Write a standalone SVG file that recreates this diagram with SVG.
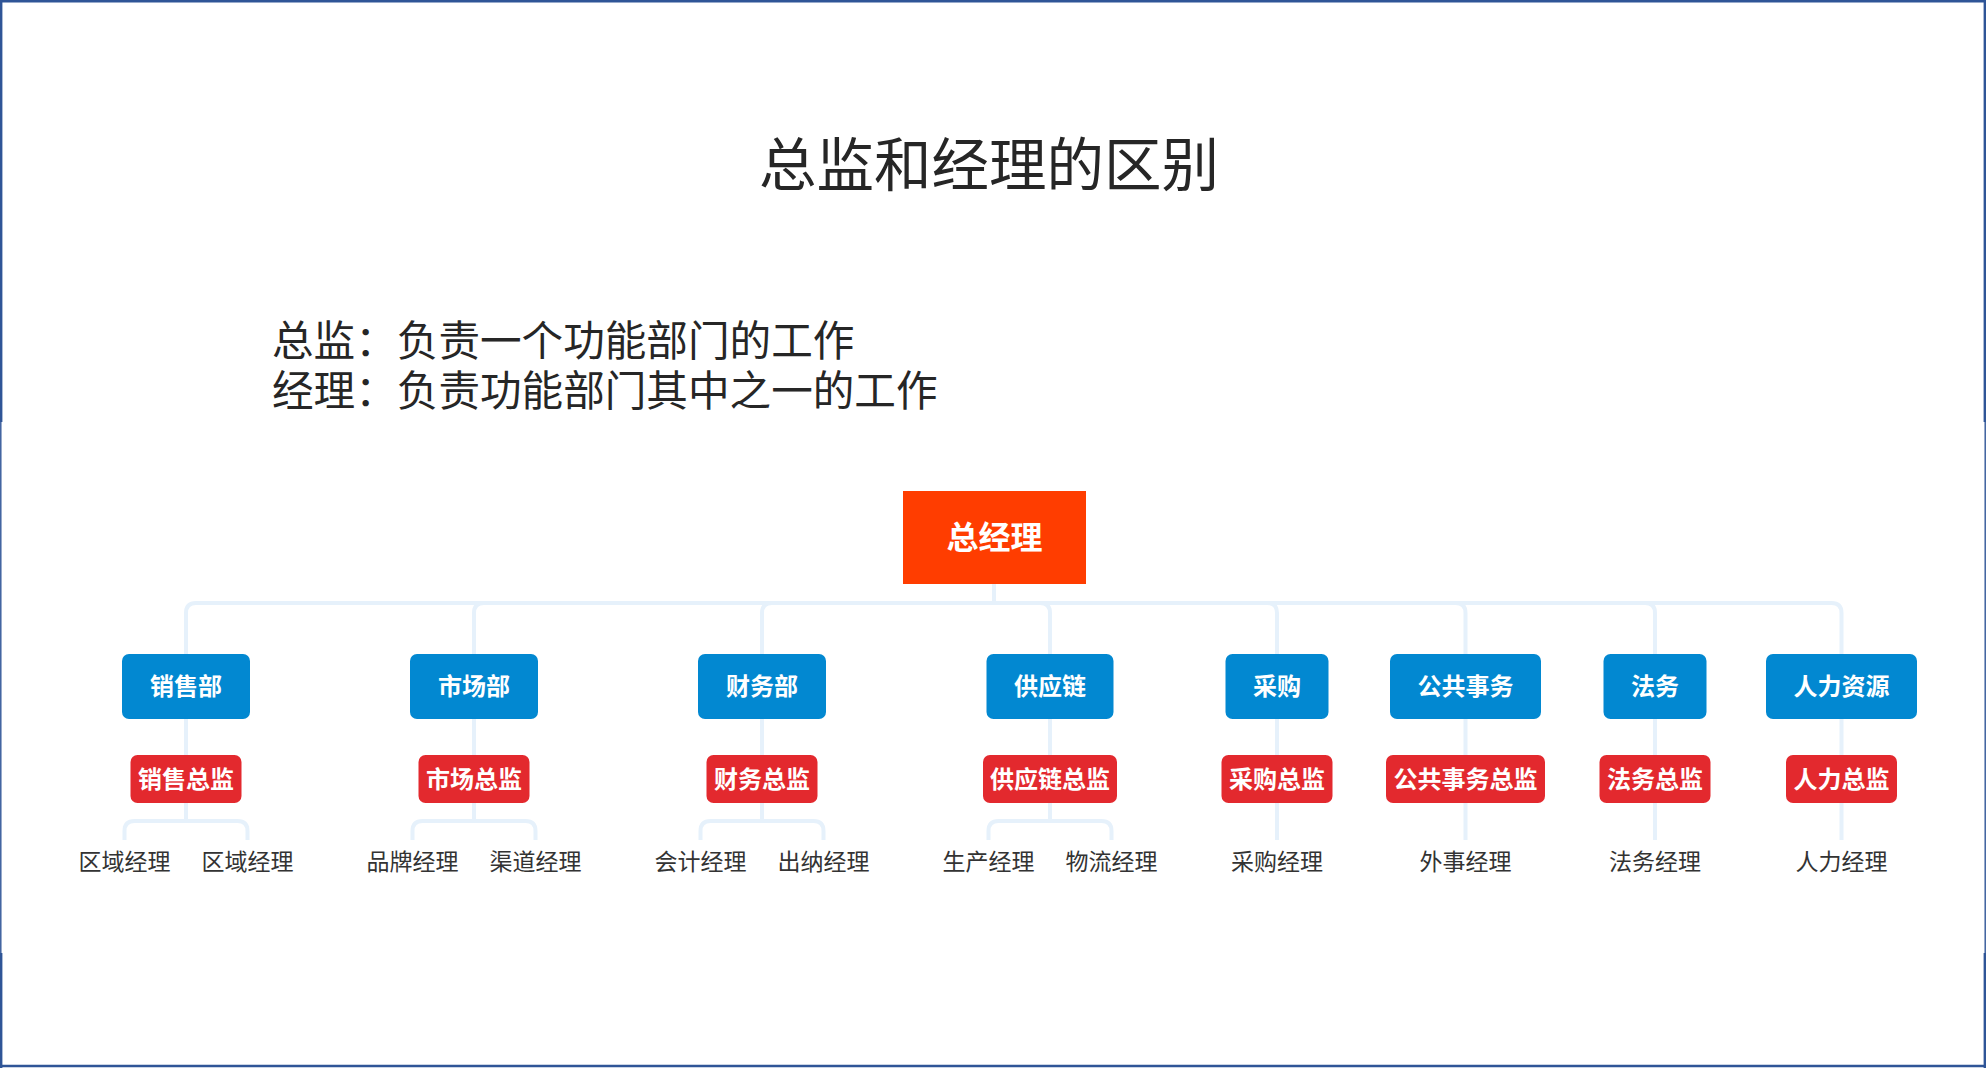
<svg xmlns="http://www.w3.org/2000/svg" width="1986" height="1068" viewBox="0 0 1986 1068">
<style>
text{font-family:"Noto Sans CJK SC","Noto Sans",sans-serif}
.title{font-size:57.5px;fill:#262626;text-anchor:middle}
.desc{font-size:41.6px;fill:#262626}
.box{font-size:24px;font-weight:bold;fill:#ffffff;text-anchor:middle}
.rootT{font-size:32px;font-weight:bold;fill:#ffffff;text-anchor:middle}
.mgr{font-size:23px;fill:#333333;text-anchor:middle}
.dept{fill:#0288D1}
.dir{fill:#E3292E}
.conn path{fill:none;stroke:#E6F1FB;stroke-width:4;stroke-linecap:butt}
.frame line{stroke:#2F5597}
</style>
<rect x="0" y="0" width="1986" height="1068" fill="#ffffff"/>
<g class="frame">
<line x1="0" y1="1.2" x2="1986" y2="1.2" stroke-width="2.4"/>
<line x1="0" y1="1066" x2="1986" y2="1066" stroke-width="2.6"/>
<line x1="1.2" y1="0" x2="1.2" y2="422" stroke-width="2.4"/>
<line x1="0.8" y1="422" x2="0.8" y2="953" stroke-width="1.4"/>
<line x1="1.2" y1="953" x2="1.2" y2="1068" stroke-width="2.4"/>
<line x1="1984.8" y1="0" x2="1984.8" y2="422" stroke-width="2.4"/>
<line x1="1985.2" y1="422" x2="1985.2" y2="953" stroke-width="1.4"/>
<line x1="1984.8" y1="953" x2="1984.8" y2="1068" stroke-width="2.4"/>
</g>
<g id="title"><text class="title" x="989" y="186">总监和经理的区别</text></g>
<g id="description">
<text class="desc" x="272" y="356"><tspan x="272" y="356">总监：负责一个功能部门的工作</tspan><tspan x="272" y="406">经理：负责功能部门其中之一的工作</tspan></text>
</g>
<g class="conn" id="connectors">
<path d="M994 584V603H196Q186 603 186 613V654"/>
<path d="M994 584V603H484Q474 603 474 613V654"/>
<path d="M994 584V603H772Q762 603 762 613V654"/>
<path d="M994 584V603H1040Q1050 603 1050 613V654"/>
<path d="M994 584V603H1267Q1277 603 1277 613V654"/>
<path d="M994 584V603H1455.5Q1465.5 603 1465.5 613V654"/>
<path d="M994 584V603H1645Q1655 603 1655 613V654"/>
<path d="M994 584V603H1831.5Q1841.5 603 1841.5 613V654"/>
<path d="M186 719V755M474 719V755M762 719V755M1050 719V755M1277 719V755M1465.5 719V755M1655 719V755M1841.5 719V755"/>
<path d="M186 803V821H134.5Q124.5 821 124.5 831V840M186 821H237.5Q247.5 821 247.5 831V840"/>
<path d="M474 803V821H422.5Q412.5 821 412.5 831V840M474 821H525.5Q535.5 821 535.5 831V840"/>
<path d="M762 803V821H710.5Q700.5 821 700.5 831V840M762 821H813.5Q823.5 821 823.5 831V840"/>
<path d="M1050 803V821H998.5Q988.5 821 988.5 831V840M1050 821H1101.5Q1111.5 821 1111.5 831V840"/>
<path d="M1277 803V840M1465.5 803V840M1655 803V840M1841.5 803V840"/>
</g>
<g id="root">
<rect x="903" y="491" width="183" height="93" fill="#FF3D00"/>
<text class="rootT" x="994.5" y="549">总经理</text>
</g>
<g id="dept-sales"><rect class="dept" x="122" y="654" width="128" height="65" rx="7"/><text class="box" x="186" y="695">销售部</text></g>
<g id="dept-market"><rect class="dept" x="410" y="654" width="128" height="65" rx="7"/><text class="box" x="474" y="695">市场部</text></g>
<g id="dept-finance"><rect class="dept" x="698" y="654" width="128" height="65" rx="7"/><text class="box" x="762" y="695">财务部</text></g>
<g id="dept-supply"><rect class="dept" x="986.5" y="654" width="127" height="65" rx="7"/><text class="box" x="1050" y="695">供应链</text></g>
<g id="dept-purchase"><rect class="dept" x="1225.5" y="654" width="103" height="65" rx="7"/><text class="box" x="1277" y="695">采购</text></g>
<g id="dept-public"><rect class="dept" x="1390" y="654" width="151" height="65" rx="7"/><text class="box" x="1465.5" y="695">公共事务</text></g>
<g id="dept-legal"><rect class="dept" x="1603.5" y="654" width="103" height="65" rx="7"/><text class="box" x="1655" y="695">法务</text></g>
<g id="dept-hr"><rect class="dept" x="1766" y="654" width="151" height="65" rx="7"/><text class="box" x="1841.5" y="695">人力资源</text></g>
<g id="dir-sales"><rect class="dir" x="130.5" y="755" width="111" height="48" rx="7"/><text class="box" x="186" y="788">销售总监</text></g>
<g id="dir-market"><rect class="dir" x="418.5" y="755" width="111" height="48" rx="7"/><text class="box" x="474" y="788">市场总监</text></g>
<g id="dir-finance"><rect class="dir" x="706.5" y="755" width="111" height="48" rx="7"/><text class="box" x="762" y="788">财务总监</text></g>
<g id="dir-supply"><rect class="dir" x="983" y="755" width="134" height="48" rx="7"/><text class="box" x="1050" y="788">供应链总监</text></g>
<g id="dir-purchase"><rect class="dir" x="1221.5" y="755" width="111" height="48" rx="7"/><text class="box" x="1277" y="788">采购总监</text></g>
<g id="dir-public"><rect class="dir" x="1386" y="755" width="159" height="48" rx="7"/><text class="box" x="1465.5" y="788">公共事务总监</text></g>
<g id="dir-legal"><rect class="dir" x="1599.5" y="755" width="111" height="48" rx="7"/><text class="box" x="1655" y="788">法务总监</text></g>
<g id="dir-hr"><rect class="dir" x="1786" y="755" width="111" height="48" rx="7"/><text class="box" x="1841.5" y="788">人力总监</text></g>
<g id="mgr-region1"><text class="mgr" x="124.5" y="870">区域经理</text></g>
<g id="mgr-region2"><text class="mgr" x="247.5" y="870">区域经理</text></g>
<g id="mgr-brand"><text class="mgr" x="412.5" y="870">品牌经理</text></g>
<g id="mgr-channel"><text class="mgr" x="535.5" y="870">渠道经理</text></g>
<g id="mgr-account"><text class="mgr" x="700.5" y="870">会计经理</text></g>
<g id="mgr-cashier"><text class="mgr" x="823.5" y="870">出纳经理</text></g>
<g id="mgr-production"><text class="mgr" x="988.5" y="870">生产经理</text></g>
<g id="mgr-logistics"><text class="mgr" x="1111.5" y="870">物流经理</text></g>
<g id="mgr-purchase"><text class="mgr" x="1277" y="870">采购经理</text></g>
<g id="mgr-foreign"><text class="mgr" x="1465.5" y="870">外事经理</text></g>
<g id="mgr-legal"><text class="mgr" x="1655" y="870">法务经理</text></g>
<g id="mgr-hr"><text class="mgr" x="1841.5" y="870">人力经理</text></g>
</svg>
